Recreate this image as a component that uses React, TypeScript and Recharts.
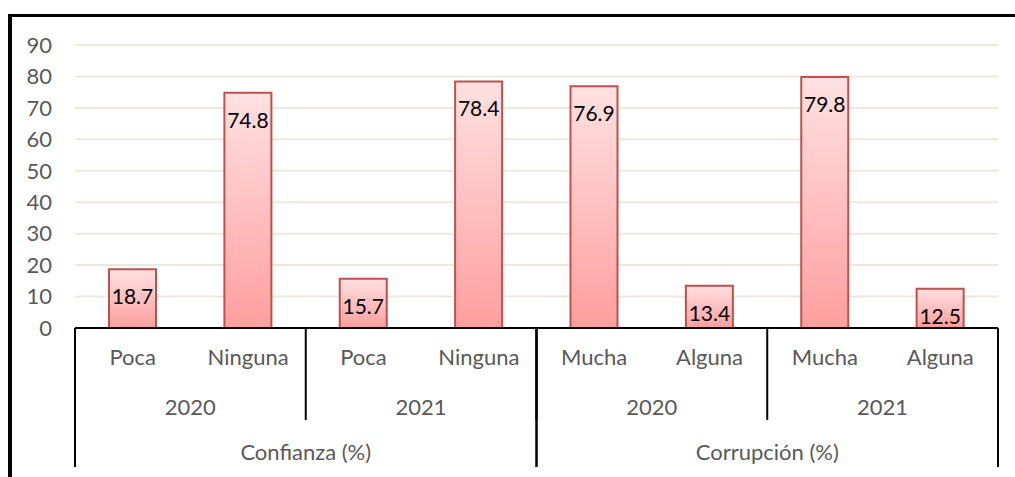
import React from 'react'
import { BarChart, Bar, XAxis, YAxis, CartesianGrid, LabelList } from 'recharts'

const CATEGORIES = ['Poca', 'Ninguna', 'Poca', 'Ninguna', 'Mucha', 'Alguna', 'Mucha', 'Alguna']
// unique group keys so the second/third axes collapse into bands
const YEAR_KEYS = ['C2020', 'C2020', 'C2021', 'C2021', 'K2020', 'K2020', 'K2021', 'K2021']
const YEAR_LABELS: Record<string, string> = { C2020: '2020', C2021: '2021', K2020: '2020', K2021: '2021' }
const SECTIONS = [
  'Confianza (%)', 'Confianza (%)', 'Confianza (%)', 'Confianza (%)',
  'Corrupción (%)', 'Corrupción (%)', 'Corrupción (%)', 'Corrupción (%)',
]
const VALUES = [18.7, 74.8, 15.7, 78.4, 76.9, 13.4, 79.8, 12.5]
const Y_TICKS = [0, 10, 20, 30, 40, 50, 60, 70, 80, 90]

const data = CATEGORIES.map((cat, i) => ({
  cat,
  year: YEAR_KEYS[i],
  section: SECTIONS[i],
  value: VALUES[i],
}))

const FONT = 'Lato, "Open Sans", sans-serif'
const TICK_COLOR = '#595959'
const AXIS_FS = 22

const half = (props: any) => props.payload?.offset || props.width / props.visibleTicksCount / 2

const CatTick = (props: any) => {
  const { x, y, payload } = props
  return (
    <text x={x} y={y} dy={37} textAnchor="middle" fill={TICK_COLOR} fontSize={AXIS_FS} fontFamily={FONT}>
      {payload.value}
    </text>
  )
}

const YearTick = (props: any) => {
  const { x, y, payload } = props
  const h = half(props)
  return (
    <g>
      <text x={x} y={y} dy={40} textAnchor="middle" fill={TICK_COLOR} fontSize={AXIS_FS} fontFamily={FONT}>
        {YEAR_LABELS[payload.value]}
      </text>
      <line x1={x + h} x2={x + h} y1={y - 47} y2={y + 45} stroke="#000" strokeWidth={2} />
    </g>
  )
}

const SectionTick = (props: any) => {
  const { x, y, payload } = props
  const h = half(props)
  return (
    <g>
      <text x={x} y={y} dy={38} textAnchor="middle" fill={TICK_COLOR} fontSize={AXIS_FS} fontFamily={FONT}>
        {payload.value}
      </text>
      <line x1={x - h} x2={x - h} y1={y - 94} y2={y + 45} stroke="#000" strokeWidth={2} />
      <line x1={x + h} x2={x + h} y1={y - 94} y2={y + 45} stroke="#000" strokeWidth={2} />
    </g>
  )
}

export default function App() {
  return (
    <div style={{ position: 'absolute', left: 0, top: 0, width: 1015, height: 477, background: '#fff' }}>
      {/* outer frame, only top and left edges show */}
      <div style={{ position: 'absolute', left: 8, top: 14, width: 1007, height: 3, background: '#000' }} />
      <div style={{ position: 'absolute', left: 8, top: 14, width: 4, height: 463, background: '#000' }} />
      <div style={{ position: 'absolute', left: 0, top: 0 }}>
        <BarChart
          width={1015}
          height={477}
          data={data}
          margin={{ top: 45, right: 17, left: 0, bottom: 10 }}
        >
          <defs>
            <linearGradient id="barFill" x1="0" y1="0" x2="0" y2="1">
              <stop offset="0%" stopColor="#FFE1E1" />
              <stop offset="100%" stopColor="#FF9E9E" />
            </linearGradient>
          </defs>
          <CartesianGrid vertical={false} stroke="#ECE8DC" strokeWidth={2} />
          <YAxis
            width={75}
            domain={[0, 90]}
            ticks={Y_TICKS}
            axisLine={false}
            tickLine={false}
            tickSize={0}
            tickMargin={23}
            tick={{ fill: TICK_COLOR, fontSize: AXIS_FS, fontFamily: FONT }}
          />
          <XAxis
            dataKey="cat"
            height={47}
            axisLine={{ stroke: '#000', strokeWidth: 2 }}
            tickLine={false}
            tickSize={0}
            tickMargin={0}
            interval={0}
            tick={<CatTick />}
          />
          <XAxis
            xAxisId="lvl2"
            dataKey="year"
            allowDuplicatedCategory={false}
            height={47}
            axisLine={false}
            tickLine={false}
            tickSize={0}
            tickMargin={0}
            interval={0}
            tick={<YearTick />}
          />
          <XAxis
            xAxisId="lvl3"
            dataKey="section"
            allowDuplicatedCategory={false}
            height={45}
            axisLine={false}
            tickLine={false}
            tickSize={0}
            tickMargin={0}
            interval={0}
            tick={<SectionTick />}
          />
          <Bar
            dataKey="value"
            barSize={47}
            fill="url(#barFill)"
            stroke="#C0504D"
            strokeWidth={2}
            isAnimationActive={false}
          >
            <LabelList
              dataKey="value"
              position="insideTop"
              offset={20}
              fill="#000"
              fontSize={21}
              fontFamily={FONT}
            />
          </Bar>
        </BarChart>
      </div>
    </div>
  )
}
